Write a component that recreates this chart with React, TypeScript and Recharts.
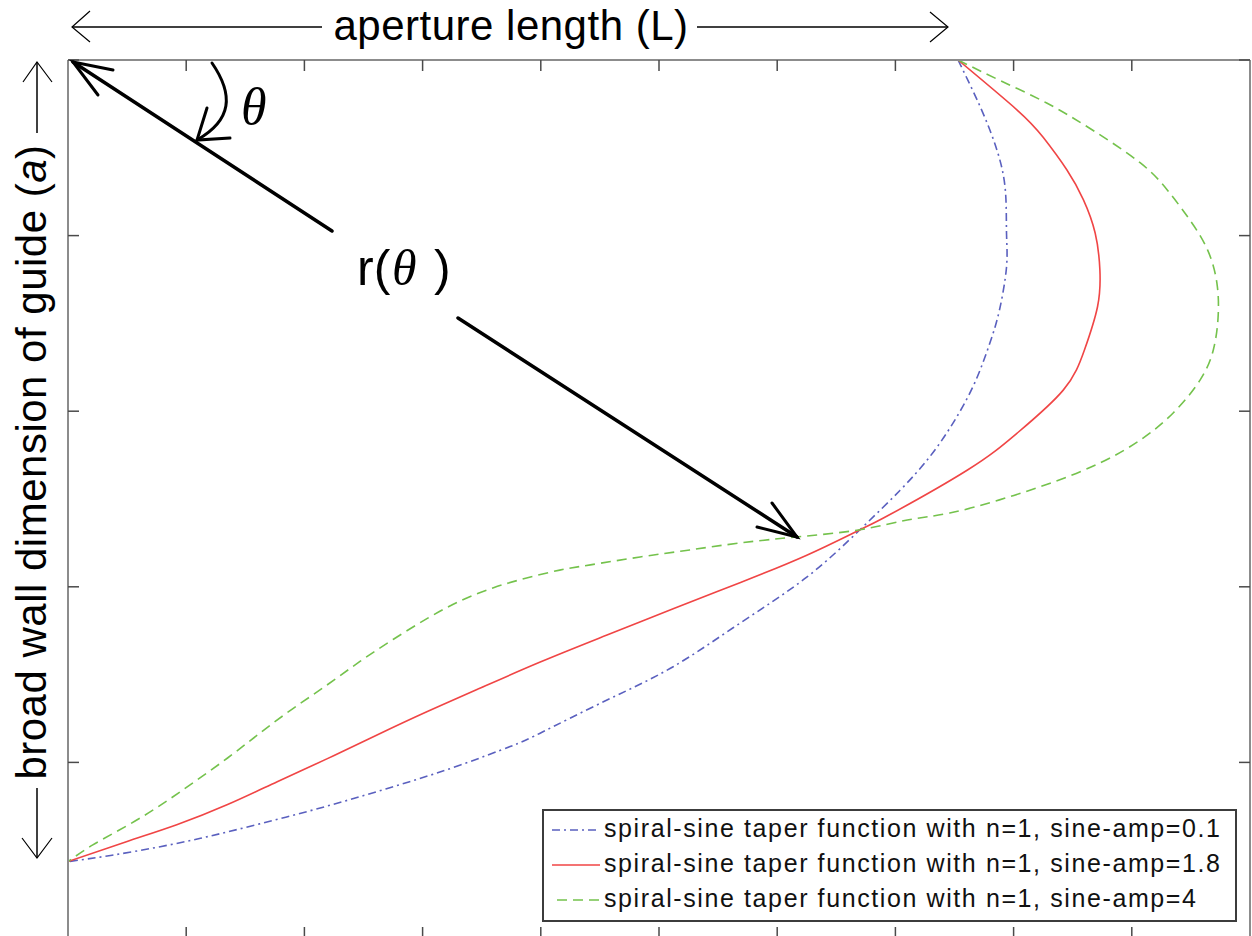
import React from 'react';
import { LineChart, Line, XAxis, YAxis, Legend } from 'recharts';

// normalised aperture length (x) and broad-wall position (y)
const X_TICKS = [0, 0.1, 0.2, 0.3, 0.4, 0.5, 0.6, 0.7, 0.8, 0.9, 1];
const Y_TICKS = [0, 0.2, 0.4, 0.6, 0.8, 1];

const amp01X = [0.753, 0.772, 0.786, 0.793, 0.794, 0.794, 0.788, 0.78, 0.767, 0.749, 0.729, 0.704, 0.67, 0.625, 0.569, 0.512, 0.456, 0.399, 0.374, 0.332, 0.289, 0.247, 0.205, 0.162, 0.12, 0.078, 0.036, 0];
const amp01Y = [1.0, 0.946, 0.897, 0.852, 0.803, 0.764, 0.715, 0.678, 0.632, 0.587, 0.548, 0.51, 0.465, 0.411, 0.359, 0.309, 0.271, 0.233, 0.218, 0.197, 0.178, 0.161, 0.145, 0.13, 0.116, 0.104, 0.094, 0.087];

const amp18X = [0.753, 0.803, 0.825, 0.845, 0.859, 0.869, 0.873, 0.871, 0.86, 0.842, 0.803, 0.761, 0.695, 0.67, 0.625, 0.569, 0.512, 0.456, 0.399, 0.346, 0.304, 0.261, 0.219, 0.177, 0.135, 0.092, 0.05, 0];
const amp18Y = [1.0, 0.943, 0.912, 0.875, 0.841, 0.803, 0.761, 0.719, 0.67, 0.624, 0.575, 0.533, 0.482, 0.465, 0.436, 0.405, 0.375, 0.345, 0.314, 0.283, 0.258, 0.231, 0.204, 0.178, 0.152, 0.129, 0.11, 0.087];

const amp4X = [0.753, 0.788, 0.828, 0.867, 0.907, 0.93, 0.949, 0.964, 0.972, 0.973, 0.969, 0.958, 0.935, 0.907, 0.873, 0.831, 0.788, 0.746, 0.71, 0.67, 0.618, 0.569, 0.526, 0.484, 0.442, 0.416, 0.388, 0.36, 0.332, 0.304, 0.275, 0.247, 0.219, 0.19, 0.162, 0.135, 0.106, 0.078, 0.05, 0.021, 0];
const amp4Y = [1.0, 0.977, 0.951, 0.92, 0.883, 0.852, 0.818, 0.784, 0.746, 0.707, 0.67, 0.636, 0.598, 0.567, 0.541, 0.518, 0.499, 0.484, 0.476, 0.465, 0.457, 0.45, 0.442, 0.434, 0.425, 0.419, 0.41, 0.399, 0.384, 0.364, 0.34, 0.315, 0.288, 0.261, 0.233, 0.205, 0.177, 0.151, 0.128, 0.106, 0.087];

const SANS = "'Liberation Sans', Arial, sans-serif";
const SERIF = "'Liberation Serif', 'Times New Roman', serif";

const toPoints = (xs: number[], ys: number[]) => xs.map((x, i) => ({ x, y: ys[i] }));

// the top/right axes share the same [0,1] domain; green uses them so they get drawn
const SERIES = [
  { name: 'spiral-sine taper function with n=1, sine-amp=0.1', data: toPoints(amp01X, amp01Y), color: '#5a60bf', dash: '8 4 2 4', legendX: 10, xId: 'bottom', yId: 'left' },
  { name: 'spiral-sine taper function with n=1, sine-amp=1.8', data: toPoints(amp18X, amp18Y), color: '#f04545', dash: undefined, legendX: 10, xId: 'bottom', yId: 'left' },
  { name: 'spiral-sine taper function with n=1, sine-amp=4', data: toPoints(amp4X, amp4Y), color: '#74c24c', dash: '10 6', legendX: 15, xId: 'top', yId: 'right' },
];

const axisLine = { stroke: '#8c8c8c', strokeWidth: 2 };
const tickLine = { stroke: '#4a4a4a', strokeWidth: 1.5 };
// no tick labels, only the tick marks
const noLabel = () => <g />;

const renderLegend = () => (
  <svg width={695} height={113} style={{ display: 'block' }}>
    <rect x={1} y={1} width={693} height={111} fill="#fff" stroke="#3c3c3c" strokeWidth={2} />
    {SERIES.map((s, i) => {
      const base = 28 + i * 35;
      return (
        <g key={s.name}>
          <line x1={s.legendX} x2={58} y1={base - 7} y2={base - 7} stroke={s.color} strokeWidth={1.6} strokeDasharray={s.dash} />
          <text x={62} y={base} fontFamily={SANS} fontSize={25} letterSpacing={1.6} fill="#111">
            {s.name}
          </text>
        </g>
      );
    })}
  </svg>
);

const Annotations = () => (
  <svg width={1252} height={936} style={{ position: 'absolute', left: 0, top: 0, pointerEvents: 'none' }}>
    {/* top title with arrows */}
    <g stroke="#000" fill="none" strokeWidth={1.5}>
      <line x1={72} y1={27} x2={322} y2={27} />
      <polyline points="90,11 72,27 90,42" strokeWidth={1.2} />
      <line x1={697} y1={27} x2={948} y2={27} />
      <polyline points="930,12 948,27 930,42" strokeWidth={1.2} />
      {/* left title arrows */}
      <line x1={37} y1={62} x2={37} y2={133} />
      <polyline points="23,82 37,62 52,82" strokeWidth={1.2} />
      <line x1={37} y1={788} x2={37} y2={858} />
      <polyline points="22,838 37,858 52,838" strokeWidth={1.2} />
    </g>
    <text x={511} y={40} textAnchor="middle" fontFamily={SANS} fontSize={42} letterSpacing={0.5} fill="#000">
      aperture length (L)
    </text>
    <text transform="translate(46,462) rotate(-90)" textAnchor="middle" fontFamily={SANS} fontSize={42} letterSpacing={0.5} fill="#000">
      broad wall dimension of guide (<tspan fontStyle="italic">a</tspan>)
    </text>

    {/* r(theta) arrow */}
    <g stroke="#000" fill="none" strokeWidth={3.5} strokeLinecap="round">
      <line x1={73} y1={62} x2={332} y2={231} />
      <polyline points="113,70 73,62 98,95" strokeWidth={3} />
      <line x1={458} y1={318} x2={797} y2={537} />
      <polyline points="772,503 797,537 757,527" strokeWidth={3} />
      {/* theta arc */}
      <path d="M212,63 C234,95 232,120 197,140" strokeWidth={3} />
      <polyline points="207,108 197,140 230,138" strokeWidth={3} />
    </g>
    <text x={241} y={124} fontFamily={SERIF} fontStyle="italic" fontSize={52} fill="#000">θ</text>
    <text x={357} y={285} fontFamily={SANS} fontSize={50} fill="#000">r(</text>
    <text x={392} y={285} fontFamily={SERIF} fontStyle="italic" fontSize={50} fill="#000">θ</text>
    <text x={434} y={285} fontFamily={SANS} fontSize={50} fill="#000">)</text>
  </svg>
);

const App: React.FC = () => {
  return (
    <div style={{ position: 'absolute', left: 0, top: 0, width: 1252, height: 936, overflow: 'hidden', background: '#fff' }}>
      <LineChart width={1252} height={940} margin={{ top: 60, right: 2, bottom: 2, left: 68 }}>
        <XAxis xAxisId="bottom" dataKey="x" type="number" domain={[0, 1]} ticks={X_TICKS} orientation="bottom" mirror tick={noLabel} tickSize={11} axisLine={axisLine} tickLine={tickLine} allowDataOverflow />
        <XAxis xAxisId="top" dataKey="x" type="number" domain={[0, 1]} ticks={X_TICKS} orientation="top" mirror tick={noLabel} tickSize={11} axisLine={axisLine} tickLine={tickLine} allowDataOverflow />
        <YAxis yAxisId="left" dataKey="y" type="number" domain={[0, 1]} ticks={Y_TICKS} orientation="left" mirror tick={noLabel} tickSize={11} axisLine={axisLine} tickLine={tickLine} allowDataOverflow />
        <YAxis yAxisId="right" dataKey="y" type="number" domain={[0, 1]} ticks={Y_TICKS} orientation="right" mirror tick={noLabel} tickSize={11} axisLine={axisLine} tickLine={tickLine} allowDataOverflow />
        {SERIES.map((s) => (
          <Line
            key={s.name}
            xAxisId={s.xId}
            yAxisId={s.yId}
            data={s.data}
            dataKey="y"
            name={s.name}
            type="natural"
            stroke={s.color}
            strokeWidth={1.6}
            strokeDasharray={s.dash}
            dot={false}
            activeDot={false}
            isAnimationActive={false}
          />
        ))}
        <Legend
          layout="vertical"
          align="center"
          verticalAlign="middle"
          content={renderLegend}
          wrapperStyle={{ left: 542, top: 809, width: 695, height: 113 }}
        />
      </LineChart>
      <Annotations />
    </div>
  );
};

export default App;
